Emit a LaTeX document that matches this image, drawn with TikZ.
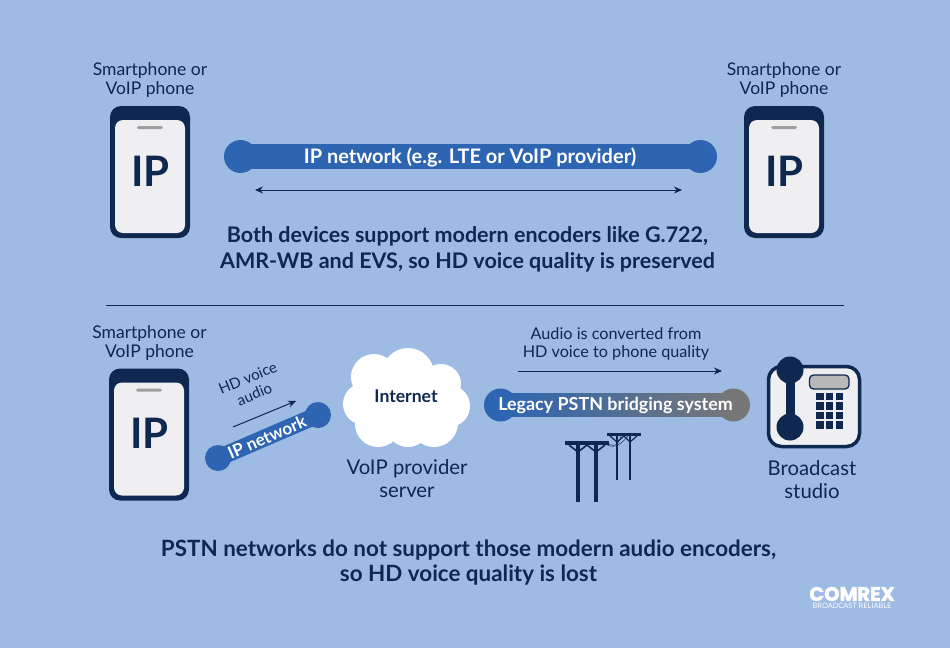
\documentclass[tikz,border=0pt]{standalone}
\usepackage{fontspec}
\setmainfont{Lato}
\newfontfamily\logofont[FakeBold=2.5]{Poppins}
\usetikzlibrary{arrows.meta,shadings}
\definecolor{bg}{HTML}{9DBBE3}
\definecolor{navy}{HTML}{0E2850}
\definecolor{barblue}{HTML}{2D65B2}
\definecolor{screen}{HTML}{EFEFF1}
\definecolor{endgray}{HTML}{777777}
\tikzset{
  x=1pt,y=-1pt,
  lbl/.style={text=navy,font=\fontsize{17.5}{19.5}\selectfont,align=center,inner sep=0pt},
  big/.style={text=navy,font=\fontsize{20.3}{23}\selectfont,align=center,inner sep=0pt},
  small/.style={text=navy,font=\fontsize{16.2}{18.5}\selectfont,align=center,inner sep=0pt},
  head/.style={text=navy,font=\fontsize{21.5}{25.5}\selectfont\bfseries,align=center,inner sep=0pt},
  headb/.style={text=navy,font=\fontsize{22.4}{25.5}\selectfont\bfseries,align=center,inner sep=0pt},
  onbar/.style={text=white,font=\fontsize{20}{22}\selectfont\bfseries,inner sep=0pt},
  flow/.style={navy,line width=1pt,-{Stealth[length=8pt,width=7pt]}},
  phonebody/.pic={
    \fill[navy,rounded corners=11pt] (-40,-66) rectangle (40,66);
    \fill[screen,rounded corners=8pt] (-35,-52) rectangle (35,61);
    \fill[gray!75,rounded corners=1.5pt] (-13,-46) rectangle (13,-43);
    \node[text=navy,font=\fontsize{42}{42}\selectfont\bfseries] at (0.5,-1) {IP};
  }
}
\begin{document}
\begin{tikzpicture}
\useasboundingbox (0,0) rectangle (950,648);
\fill[bg] (0,0) rectangle (950,648);

% top row
\node[lbl] (lbl1) at (150,80) {Smartphone or\\VoIP phone};
\node[lbl] (lbl2) at (784,80) {Smartphone or\\VoIP phone};
\pic at (150,172) {phonebody};
\pic at (784,172) {phonebody};

\coordinate (barAl) at (240.5,156.5);
\coordinate (barAr) at (700.5,156.5);
\fill[barblue] (barAl) circle (16.5);
\fill[barblue] (barAr) circle (16.5);
\draw[barblue,line width=25pt] (barAl) -- (barAr);
\node[onbar] (ipnet) at (470,157.5) {IP network (e.g. LTE or VoIP provider)};
\coordinate (arAl) at (255,190);
\coordinate (arAr) at (682,190);
\draw[navy,line width=1pt,{Stealth[length=8pt,width=7pt]}-{Stealth[length=8pt,width=7pt]}] (arAl) -- (arAr);
\node[head] (both) at (467.5,249.5) {Both devices support modern encoders like G.722,\\AMR-WB and EVS, so HD voice quality is preserved};

\coordinate (ruleL) at (106,305);
\coordinate (ruleR) at (844,305);
\draw[navy,line width=0.7pt] (ruleL) -- (ruleR);

% bottom row
\node[lbl] (lbl3) at (149.5,343) {Smartphone or\\VoIP phone};
\pic at (149,434.5) {phonebody};

\node[text=navy,font=\fontsize{15}{17.5}\selectfont,align=center,inner sep=0pt,rotate=22.4] (hdv) at (251,386) {HD voice\\audio};
\coordinate (arBs) at (233,427);
\coordinate (arBe) at (296,401);
\draw[flow] (arBs) -- (arBe);

\coordinate (barBl) at (218,458);
\coordinate (barBr) at (318,415);
\fill[barblue] (barBl) circle (13);
\fill[barblue] (barBr) circle (13);
\draw[barblue,line width=17pt] (barBl) -- (barBr);
\node[onbar,rotate=23.3,font=\fontsize{17}{18}\selectfont\bfseries] (ipn) at (267,437) {IP network};

% cloud
\fill[white] (374,377) circle (23) (408,374) circle (26) (441,384) circle (20)
  (364,404) circle (21) (449,406) circle (21) (378,424) circle (23) (408,425) circle (22) (434,423) circle (24)
  (405,400) ellipse (50 and 30);
\node[text=navy,font=\fontsize{17.6}{18}\selectfont\bfseries,inner sep=0pt] (inet) at (406,396.5) {Internet};
\node[big] (voip) at (407,478.5) {VoIP provider\\server};

% PSTN
\node[small] (conv) at (616,344) {Audio is converted from\\HD voice to phone quality};
\coordinate (arCs) at (518,371);
\coordinate (arCe) at (722,371);
\draw[flow] (arCs) -- (arCe);

\coordinate (barCl) at (500.5,405);
\coordinate (barCr) at (733.5,405);
\fill[barblue] (barCl) circle (16.5);
\fill[endgray] (barCr) circle (16.5);
\shade[left color=barblue,right color=endgray] (500.5,393.5) rectangle (733.5,416.5);
\node[onbar,font=\fontsize{17.9}{20}\selectfont\bfseries] (legacy) at (615.5,405) {Legacy PSTN bridging system};

% poles
\begin{scope}[navy]
  \draw[line width=3.2pt] (578,443) -- (578,502);
  \draw[line width=3.2pt] (596,443) -- (596,502);
  \draw[line width=4.5pt] (565,443) -- (609,443);
  \draw[line width=1.6pt] (569,445) -- (578,452) -- (587,445) -- (596,452) -- (605,445);
  \draw[line width=2.6pt] (617,434) -- (617,480);
  \draw[line width=2.6pt] (630,434) -- (630,480);
  \draw[line width=3.6pt] (607,434.5) -- (641,434.5);
  \draw[line width=1.2pt] (610,436) -- (617,442) -- (624,436) -- (630,442) -- (637,436);
  \draw[line width=0.4pt] (606,444) .. controls (612,449) and (620,446) .. (628,436);
  \draw[line width=0.4pt] (609,444) .. controls (614,447) and (618,446) .. (621,436);
\end{scope}

% telephone
\draw[navy,line width=3.5pt,fill=screen,rounded corners=13pt] (768.5,366.5) rectangle (859.5,446.5);
\fill[navy] (790,370) circle (13.5);
\fill[navy] (790,427) circle (13.5);
\fill[navy] (785.5,370) rectangle (794.5,427);
\draw[navy,line width=1.3pt,fill=gray!55,rounded corners=4pt] (809.5,375) rectangle (849,389);
\foreach \c in {0,1,2}
  \foreach \r in {0,1,2,3}
    \fill[navy] ({816+\c*9.8},{393+\r*9.4}) rectangle +(7.6,7.4);
\node[big] (studio) at (812,479.5) {Broadcast\\studio};

\node[headb] (pstn) at (468.5,562.5) {PSTN networks do not support those modern audio encoders,\\so HD voice quality is lost};

% logo
\node[text=white,inner sep=0pt,font=\fontsize{19.5}{20}\logofont\bfseries] (comrex) at (852,594) {COMREX};
\node[text=white,inner sep=0pt,font=\fontsize{7.4}{8}\selectfont] (tag) at (852,605.5) {BROADCAST RELIABLE};
\end{tikzpicture}
\end{document}
